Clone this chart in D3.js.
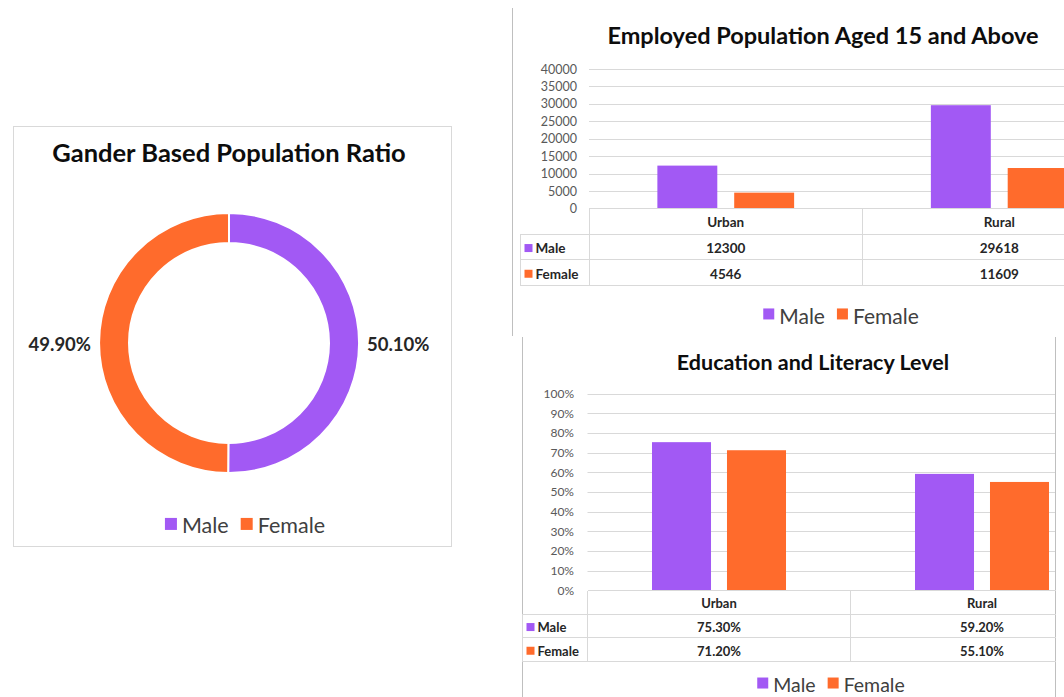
<!DOCTYPE html>
<html>
<head>
<meta charset="utf-8">
<script src="https://cdn.jsdelivr.net/npm/d3@7"></script>
<style>
  html, body { margin: 0; padding: 0; background: #ffffff; }
  svg { display: block; font-family: Lato, "Open Sans", sans-serif; }
</style>
</head>
<body>
<svg id="board" width="1064" height="697"></svg>
<script>
// ---- data ----
const seriesNames = ["Male", "Female"];
const seriesColors = ["#a259f4", "#ff6b2c"];

const genderShare = [50.1, 49.9];
const genderLabels = ["50.10%", "49.90%"];

const areas = ["Urban", "Rural"];

const employedMale = [12300, 29618];
const employedFemale = [4546, 11609];
const employedTicks = [0, 5000, 10000, 15000, 20000, 25000, 30000, 35000, 40000];

const literacyMale = [75.3, 59.2];
const literacyFemale = [71.2, 55.1];
const literacyTicks = [0, 10, 20, 30, 40, 50, 60, 70, 80, 90, 100];

const svg = d3.select("#board");
const defs = svg.append("defs");
const gridColor = "#d9d9d9";
const textColor = "#262626";

// ---- shared legend ----
function legend(g, cx, y, size, sq) {
  const items = g.append("g");
  let x = 0;
  seriesNames.forEach((name, i) => {
    items.append("rect").attr("x", x).attr("y", y - sq * 0.5 - size * 0.05)
      .attr("width", sq).attr("height", sq).attr("fill", seriesColors[i]);
    const t = items.append("text").attr("x", x + sq + 5).attr("y", y)
      .attr("dominant-baseline", "central").attr("font-size", size)
      .attr("fill", "#404040").text(name);
    x += sq + 5 + t.node().getComputedTextLength() + 12;
  });
  const w = x - 12;
  items.attr("transform", `translate(${cx - w / 2},0)`);
}

// ---- doughnut panel ----
(function () {
  const g = svg.append("g");
  g.append("rect").attr("x", 13.5).attr("y", 126.5).attr("width", 438).attr("height", 420)
    .attr("fill", "#fff").attr("stroke", gridColor);
  g.append("text").attr("x", 229).attr("y", 152).attr("text-anchor", "middle")
    .attr("dominant-baseline", "central").attr("font-size", 25.5).attr("font-weight", 700)
    .attr("fill", "#0d0d0d").text("Gander Based Population Ratio");

  const cx = 229, cy = 343, R = 130, r = 100;
  const pie = d3.pie().sort(null).value(d => d);
  const arcs = pie(genderShare);
  const arc = d3.arc().innerRadius(r).outerRadius(R);
  const dg = g.append("g").attr("transform", `translate(${cx},${cy})`);
  dg.selectAll("path").data(arcs).join("path")
    .attr("d", arc).attr("fill", (d, i) => seriesColors[i])
    .attr("stroke", "#fff").attr("stroke-width", 2);
  dg.selectAll("text").data(arcs).join("text")
    .attr("x", d => {
      const a = (d.startAngle + d.endAngle) / 2;
      return Math.sin(a) * (R + 8);
    })
    .attr("y", d => {
      const a = (d.startAngle + d.endAngle) / 2;
      return -Math.cos(a) * (R + 8) + 1;
    })
    .attr("text-anchor", d => Math.sin((d.startAngle + d.endAngle) / 2) >= 0 ? "start" : "end")
    .attr("dominant-baseline", "central").attr("font-size", 18.5).attr("font-weight", 700)
    .attr("fill", textColor).text((d, i) => genderLabels[i]);

  legend(g, 245, 525, 21.5, 12);
})();

// ---- clustered column chart with data table ----
function columnChart(cfg) {
  defs.append("clipPath").attr("id", cfg.id).append("rect")
    .attr("x", 0).attr("y", 0).attr("width", cfg.clipRight).attr("height", 697);
  const g = svg.append("g").attr("clip-path", `url(#${cfg.id})`);
  // frame lines
  cfg.frame.forEach(f => g.append("line").attr("x1", f[0]).attr("y1", f[1])
    .attr("x2", f[2]).attr("y2", f[3]).attr("stroke", "#bfbfbf"));

  g.append("text").attr("x", cfg.titleX).attr("y", cfg.titleY).attr("text-anchor", "middle")
    .attr("dominant-baseline", "central").attr("font-size", cfg.titleSize).attr("font-weight", 700)
    .attr("fill", "#0d0d0d").text(cfg.title);

  const y = d3.scaleLinear().domain([cfg.ticks[0], cfg.ticks[cfg.ticks.length - 1]])
    .range([cfg.plotBottom, cfg.plotTop]);
  const x = d3.scaleBand().domain(areas).range([cfg.plotLeft, cfg.plotLeft + cfg.band * areas.length]);
  const inner = d3.scaleBand().domain(seriesNames).range([0, x.bandwidth()])
    .paddingInner(cfg.innerPad).paddingOuter(cfg.outerPad);

  // gridlines
  g.append("g").selectAll("line").data(cfg.ticks.slice(1)).join("line")
    .attr("x1", cfg.plotLeft).attr("x2", cfg.gridRight)
    .attr("y1", d => Math.round(y(d)) + 0.5).attr("y2", d => Math.round(y(d)) + 0.5)
    .attr("stroke", gridColor);

  // value axis
  const ax = g.append("g").attr("transform", `translate(${cfg.labelRight},0)`)
    .call(d3.axisLeft(y).tickValues(cfg.ticks).tickSize(0).tickPadding(0).tickFormat(cfg.tickFormat));
  ax.select(".domain").remove();
  ax.selectAll("text").attr("font-size", cfg.tickSize).attr("fill", "#595959")
    .attr("font-family", "Lato, 'Open Sans', sans-serif");

  // bars
  const series = [cfg.male, cfg.female];
  series.forEach((vals, si) => {
    g.append("g").selectAll("rect").data(vals).join("rect")
      .attr("x", (d, i) => x(areas[i]) + inner(seriesNames[si]))
      .attr("width", inner.bandwidth())
      .attr("y", d => y(d)).attr("height", d => y(0) - y(d))
      .attr("fill", seriesColors[si]);
  });

  // data table
  const rowH = cfg.rowH;
  const top = cfg.plotBottom;
  const right = cfg.plotLeft + cfg.band * areas.length;
  const tg = g.append("g").attr("stroke", gridColor).attr("shape-rendering", "crispEdges");
  for (let k = 0; k <= 3; k++) {
    const yy = top + k * rowH;
    tg.append("line").attr("x1", k === 0 ? cfg.plotLeft : cfg.tableLeft).attr("x2", right)
      .attr("y1", yy).attr("y2", yy);
  }
  tg.append("line").attr("x1", cfg.tableLeft).attr("x2", cfg.tableLeft)
    .attr("y1", top + rowH).attr("y2", top + 3 * rowH);
  areas.forEach((a, i) => {
    tg.append("line").attr("x1", x(a)).attr("x2", x(a)).attr("y1", top).attr("y2", top + 3 * rowH);
  });
  tg.append("line").attr("x1", right).attr("x2", right).attr("y1", top).attr("y2", top + 3 * rowH);

  const txt = g.append("g").attr("font-size", cfg.tableSize).attr("font-weight", 700).attr("fill", textColor);
  areas.forEach((a, i) => {
    const cxp = x(a) + x.bandwidth() / 2;
    txt.append("text").attr("x", cxp).attr("y", top + rowH * 0.5 + 1).attr("text-anchor", "middle")
      .attr("dominant-baseline", "central").text(a);
    series.forEach((vals, si) => {
      txt.append("text").attr("x", cxp).attr("y", top + rowH * (si + 1.5) + 1).attr("text-anchor", "middle")
        .attr("dominant-baseline", "central").text(cfg.valueFormat(vals[i]));
    });
  });
  seriesNames.forEach((n, si) => {
    const yy = top + rowH * (si + 1.5) + 1;
    g.append("rect").attr("x", cfg.tableLeft + 4).attr("y", yy - 4).attr("width", 8).attr("height", 8)
      .attr("fill", seriesColors[si]);
    txt.append("text").attr("x", cfg.tableLeft + 15).attr("y", yy).attr("dominant-baseline", "central").text(n);
  });

  legend(g, cfg.legendX, cfg.legendY, cfg.legendSize, 11);
}

columnChart({
  id: "clip-employed", clipRight: 1064,
  title: "Employed Population Aged 15 and Above",
  titleX: 823, titleY: 35, titleSize: 23.5,
  frame: [[512.5, 8, 512.5, 336]],
  ticks: employedTicks,
  tickFormat: d => String(d), tickSize: 12.5,
  valueFormat: d => String(d),
  male: employedMale, female: employedFemale,
  plotLeft: 589, plotTop: 69, plotBottom: 208.5, band: 273.5, gridRight: 1064,
  labelRight: 577, innerPad: 0.22, outerPad: 0.89,
  tableLeft: 520.5, rowH: 25.7, tableSize: 13.5,
  legendX: 841, legendY: 315, legendSize: 21
});

columnChart({
  id: "clip-literacy", clipRight: 1056,
  title: "Education and Literacy Level",
  titleX: 813, titleY: 362, titleSize: 21.5,
  frame: [[522.5, 337, 522.5, 697], [1055.5, 337, 1055.5, 697]],
  ticks: literacyTicks,
  tickFormat: d => d + "%", tickSize: 12,
  valueFormat: d => d.toFixed(2) + "%",
  male: literacyMale, female: literacyFemale,
  plotLeft: 587.5, plotTop: 393.5, plotBottom: 590.5, band: 263, gridRight: 1055,
  labelRight: 574, innerPad: 0.213, outerPad: 0.86,
  tableLeft: 522.5, rowH: 23.7, tableSize: 13,
  legendX: 831, legendY: 684, legendSize: 19.5
});
</script>
</body>
</html>
